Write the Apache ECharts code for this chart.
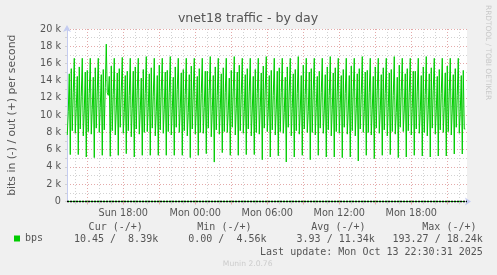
<!DOCTYPE html>
<html><head><meta charset="utf-8">
<script src="https://cdn.jsdelivr.net/npm/echarts@6/dist/echarts.min.js"></script>
<style>html,body{margin:0;padding:0;background:#f0f0f0}#c{width:497px;height:275px}</style>
</head><body><div id="c"></div>
<script>
const chartTitle = 'vnet18 traffic - by day';
const yAxisName = 'bits in (-) / out (+) per second';
const sideText = 'RRDTOOL / TOBI OETIKER';
const startHour = 13 + 20 / 60;   // first sample: Sun 13:20 (hours since Sun 00:00)
const stepHour = 5 / 60;          // 5-minute samples
const xMin = 13.31, xMax = 13.31 + 400 / 12;

// out traffic, in k bits/s, one value per 5 minutes
const outK = [
 7.7,10.4,14.8,5.43,15.4,8.2,12.6,16.6,
 7.9,10.8,14.5,5.43,15.6,8.4,12.2,16.6,
 7.6,10.5,15.0,5.15,15.2,8.1,12.5,16.6,
 7.8,10.7,14.4,5.08,15.5,8.5,12.8,16.6,
 8.0,10.9,14.7,5.35,15.3,8.3,13.2,18.24,
 12.6,12.3,14.5,5.23,15.7,8.2,12.4,16.6,
 7.7,10.6,14.9,5.35,15.4,8.6,12.7,16.7,
 7.9,10.3,14.6,5.54,15.1,8.2,12.3,16.6,
 7.5,10.8,15.1,5.15,15.6,8.4,12.9,16.6,
 7.8,10.5,14.3,5.35,15.3,8.0,12.5,16.8,
 8.1,10.9,14.8,5.35,15.5,8.5,12.2,16.6,
 7.6,10.4,14.6,5.35,15.8,8.3,12.8,16.6,
 7.9,10.7,15.0,5.35,15.2,8.1,12.6,16.8,
 7.7,10.5,14.4,5.35,15.6,8.6,13.0,16.6,
 8.0,10.8,14.9,5.35,15.3,8.2,12.4,16.6,
 7.6,10.3,14.7,5.08,15.7,8.4,12.7,16.6,
 7.8,10.6,14.5,5.35,15.4,8.0,12.5,16.6,
 7.9,10.9,15.1,5.54,15.1,8.5,12.9,16.8,
 7.5,10.4,14.6,4.56,15.6,8.3,12.3,16.6,
 7.8,10.7,14.8,5.66,15.5,8.1,12.6,16.6,
 8.0,10.5,14.3,5.35,15.2,8.6,12.8,16.8,
 7.7,10.8,15.0,5.35,15.8,8.2,12.4,16.6,
 7.9,10.4,14.7,5.43,15.4,8.4,12.7,16.6,
 7.6,10.6,14.5,5.43,15.3,8.0,12.5,16.6,
 7.8,10.9,14.9,4.84,15.7,8.5,13.0,16.8,
 8.1,10.5,14.6,5.15,15.2,8.3,12.3,16.6,
 7.7,10.7,15.1,5.30,15.5,8.1,12.6,16.6,
 7.9,10.3,14.4,4.57,15.6,8.6,12.8,16.6,
 7.6,10.8,14.8,5.15,15.3,8.2,12.5,16.8,
 7.8,10.6,14.6,5.35,15.8,8.4,12.4,16.6,
 8.0,10.4,15.0,4.84,15.4,8.0,12.9,16.6,
 7.7,10.9,14.5,5.35,15.1,8.5,12.6,16.6,
 7.9,10.5,14.7,5.15,15.6,8.3,12.3,16.8,
 7.6,10.7,14.9,5.15,15.5,8.1,12.7,16.6,
 7.9,7.7,14.6,5.08,15.3,8.6,12.5,16.6,
 7.8,10.6,14.6,5.15,15.7,8.2,12.8,16.6,
 7.6,10.8,14.8,4.69,15.4,8.4,12.4,16.8,
 8.0,10.4,15.0,5.35,15.2,8.0,12.6,16.6,
 7.7,10.7,14.5,4.96,15.6,8.5,12.9,16.6,
 7.9,10.5,14.7,5.35,15.5,8.3,12.5,16.6,
 7.6,10.9,14.9,5.43,15.3,8.1,12.3,16.8,
 7.8,10.3,14.4,5.08,15.8,8.6,12.7,16.6,
 8.1,10.6,14.8,5.15,15.4,8.2,12.6,16.6,
 7.7,10.8,15.1,5.35,15.1,8.4,12.8,16.6,
 7.9,10.4,14.6,5.27,15.6,8.0,12.4,16.8,
 7.6,10.7,14.8,5.15,15.5,8.5,12.9,16.6,
 7.8,10.5,14.5,5.27,15.3,8.3,12.5,16.6,
 8.0,10.9,14.9,5.27,15.7,8.1,12.7,16.6,
 7.7,10.6,14.7,5.50,15.4,8.6,12.3,16.6,
 7.9,10.4,14.6,5.50,15.2,8.4,8.39
];
// in traffic (drawn negative), [hour, k bits/s]
const inPoints = [[13.3333,-0.004],[16.5833,-0.003],[16.6667,-0.19327],[16.75,-0.002],
  [35.9167,-0.003],[36.0,-0.12],[36.0833,-0.003],[46.5,-0.01045]];

const xTickHours = [18, 24, 30, 36, 42];
const xTickLabels = ['Sun 18:00', 'Mon 00:00', 'Mon 06:00', 'Mon 12:00', 'Mon 18:00'];
const legendHeaders = ['Cur (-/+)', 'Min (-/+)', 'Avg (-/+)', 'Max (-/+)'];
const legendValues = ['10.45 /  8.39k', '0.00 /  4.56k', '3.93 / 11.34k', '193.27 / 18.24k'];
const lastUpdate = 'Last update: Mon Oct 13 22:30:31 2025';
const footer = 'Munin 2.0.76';

const hourGrid = [], majorGrid = [];
for (let h = 14; h <= 46; h++) { hourGrid.push(h); if (h % 3 === 0) majorGrid.push(h); }

const SANS = 'DejaVu Sans', MONO = 'DejaVu Sans Mono';
const TXT = '#555555', AXIS = '#c4ccf0', MAJ = '#e4aaaa', MIN = '#d2d2d2', GREEN = '#00cc00';

const headerRight = [142.8, 251.5, 365.5, 476.5];
const valueRight = [158.2, 266.5, 374.8, 482.8];
const graphics = [
  {type:'text', x:248, y:19, style:{text:chartTitle, font:'12.6px "' + SANS + '"', fill:TXT, textAlign:'center', textVerticalAlign:'middle'}},
  {type:'text', x:488, y:5, rotation:-Math.PI/2, style:{text:sideText, font:'7.4px "' + SANS + '"', fill:'#c8c8c8', textAlign:'left', textVerticalAlign:'middle'}},
  {type:'text', x:482.8, y:252, style:{text:lastUpdate, font:'10px "' + MONO + '"', fill:TXT, textAlign:'right', textVerticalAlign:'middle'}},
  {type:'text', x:247.7, y:264, style:{text:footer, font:'7.6px "' + SANS + '"', fill:'#cccccc', textAlign:'center', textVerticalAlign:'middle'}}
];
legendHeaders.forEach((t, i) => graphics.push({type:'text', x:headerRight[i], y:227.5, style:{text:t, font:'10px "' + MONO + '"', fill:TXT, textAlign:'right', textVerticalAlign:'middle'}}));
legendValues.forEach((t, i) => graphics.push({type:'text', x:valueRight[i], y:239.5, style:{text:t, font:'10px "' + MONO + '"', fill:TXT, textAlign:'right', textVerticalAlign:'middle'}}));

const chart = echarts.init(document.getElementById('c'), null, {renderer:'canvas'});
chart.setOption({
  backgroundColor: '#f0f0f0',
  animation: false,
  grid: {left:67, top:29, width:400, height:172.4, show:true, backgroundColor:'#ffffff', borderWidth:0, containLabel:false, outerBoundsMode:'none'},
  legend: {show:true, data:['bps'], left:14, top:233.5, padding:0, icon:'rect', itemWidth:6, itemHeight:6,
    textStyle:{fontFamily:MONO, fontSize:10, color:TXT}},
  xAxis: [
    {type:'value', min:xMin, max:xMax, position:'bottom',
     axisLine:{show:true, onZero:false, lineStyle:{color:AXIS, width:1}, symbol:['none','arrow'], symbolSize:[6,6], symbolOffset:[0,4]},
     axisTick:{show:true, customValues:hourGrid, length:3, lineStyle:{color:MIN}},
     axisLabel:{show:false},
     splitLine:{show:true, lineStyle:{color:MIN, type:[1,2], width:1}}},
    {type:'value', min:xMin, max:xMax, position:'bottom',
     axisLine:{show:false, onZero:false},
     axisTick:{show:true, customValues:majorGrid, length:3, lineStyle:{color:MAJ}},
     axisLabel:{show:true, customValues:xTickHours, margin:7, color:TXT, fontFamily:SANS, fontSize:9.7,
       formatter: v => { const i = xTickHours.indexOf(Math.round(v)); return i >= 0 ? xTickLabels[i] : ''; }},
     splitLine:{show:true, lineStyle:{color:MAJ, type:[1,2], width:1}}}
  ],
  yAxis: {type:'value', min:0, max:20, interval:1,
    name:yAxisName, nameLocation:'middle', nameGap:49, nameRotate:90,
    nameTextStyle:{fontFamily:SANS, fontSize:10.8, color:TXT},
    axisLine:{show:true, lineStyle:{color:AXIS, width:1}, symbol:['none','arrow'], symbolSize:[6,7], symbolOffset:[0,4]},
    axisTick:{show:true, length:2, lineStyle:{color:MIN}},
    axisLabel:{margin:6, color:TXT, fontFamily:SANS, fontSize:9.7,
      formatter: v => (v % 2 ? '' : (v === 0 ? '0' : v + ' k'))},
    splitLine:{show:true, lineStyle:{color:[MAJ, MIN], type:[1,2], width:1}}},
  graphic: graphics,
  series: [
    {name:'bps', type:'line', xAxisIndex:0, data: outK.map((v, i) => [startHour + i * stepHour, v]),
     showSymbol:false, symbol:'none', sampling:false, color:GREEN, lineStyle:{color:GREEN, width:1}, z:3,
     markLine:{silent:true, symbol:'none', label:{show:false}, data:[{yAxis:0}],
       lineStyle:{color:'#000000', width:1.4, type:[2,1]}, z:5}},
    {name:'bps_in', type:'line', xAxisIndex:0, data: inPoints, clip:false,
     showSymbol:false, symbol:'none', color:GREEN, lineStyle:{color:GREEN, width:1}, z:2}
  ]
});
</script></body></html>
